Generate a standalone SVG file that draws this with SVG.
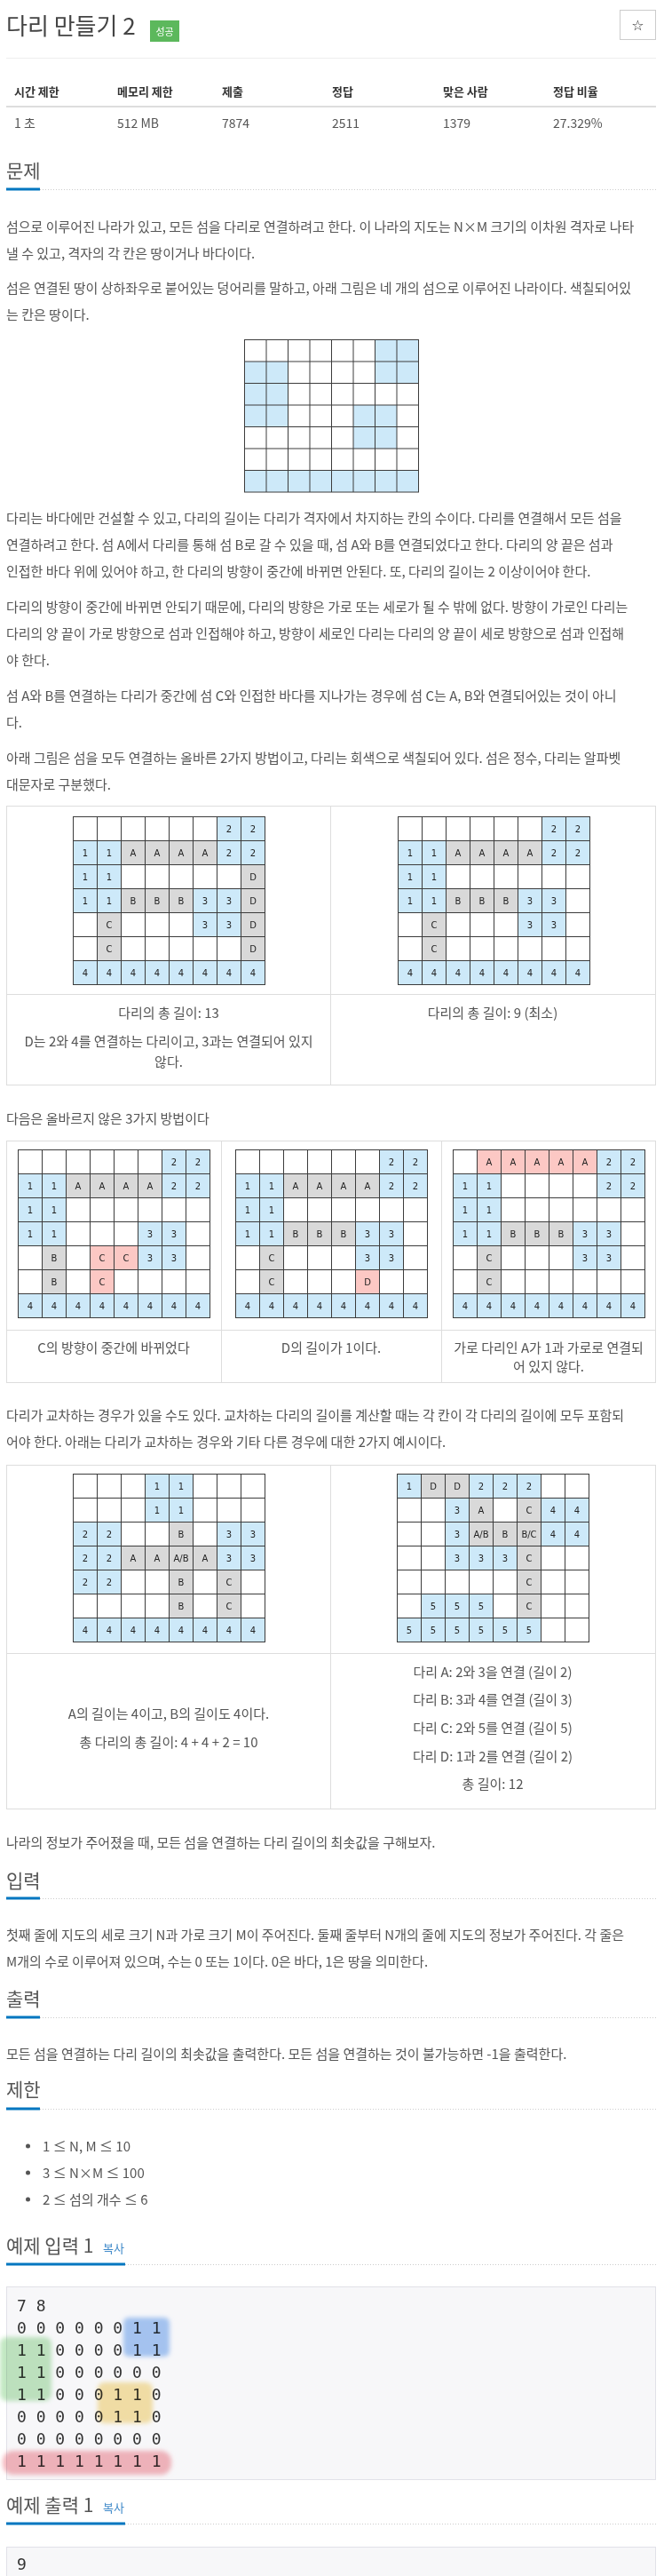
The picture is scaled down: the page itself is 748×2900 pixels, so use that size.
<svg xmlns="http://www.w3.org/2000/svg" xmlns:xlink="http://www.w3.org/1999/xlink" width="748" height="2900" viewBox="0 0 748 2900">
<style>
.f{font-family:"Noto Sans CJK KR","Noto Sans",sans-serif;fill:#555}
.p{font-size:15px}
.c{text-anchor:middle}
.h{font-size:21px}
.th{font-size:13px;font-weight:bold;fill:#333}
.tv{font-size:14px;fill:#555}
.tb{fill:none;stroke:#ddd;stroke-width:1}
.gl{fill:none;stroke:#3c3c3c;stroke-width:1}
.b{fill:#cde9f9}
.g{fill:#d9d9d9}
.k{fill:#fcc8c4}
.t{font-family:"DejaVu Sans",sans-serif;font-size:10px;fill:#222;text-anchor:middle}
.ul{fill:#0076c0}
.dl{stroke:#ccc;stroke-width:1;stroke-dasharray:1 2}
.pre{fill:#f7f7f9;stroke:#e1e1e8;stroke-width:1}
.m{font-family:"DejaVu Sans Mono","Liberation Mono",monospace;font-size:18px;fill:#333}
.hl{mix-blend-mode:multiply;filter:url(#blur)}
</style>
<defs>
<filter id="blur" x="-20%" y="-20%" width="140%" height="140%"><feGaussianBlur stdDeviation="2.5"/></filter>
<g id="L27" class="gl"><rect width="216" height="189"/><path d="M27 0V189M54 0V189M81 0V189M108 0V189M135 0V189M162 0V189M189 0V189M0 27H216M0 54H216M0 81H216M0 108H216M0 135H216M0 162H216"/></g>
<g id="L24" class="gl"><rect width="196" height="171.5"/><path d="M24.5 0V171.5M49 0V171.5M73.5 0V171.5M98 0V171.5M122.5 0V171.5M147 0V171.5M171.5 0V171.5M0 24.5H196M0 49H196M0 73.5H196M0 98H196M0 122.5H196M0 147H196"/></g>
<g id="row4">
<rect class="b" x="0" y="162" width="216" height="27"/>
<text class="t" x="13.5" y="179">4</text><text class="t" x="40.5" y="179">4</text><text class="t" x="67.5" y="179">4</text><text class="t" x="94.5" y="179">4</text><text class="t" x="121.5" y="179">4</text><text class="t" x="148.5" y="179">4</text><text class="t" x="175.5" y="179">4</text><text class="t" x="202.5" y="179">4</text>
</g>
<g id="top">
<rect class="b" x="162" y="0" width="54" height="54"/>
<rect class="b" x="0" y="27" width="54" height="54"/>
<rect class="g" x="54" y="27" width="108" height="27"/>
<text class="t" x="175.5" y="17">2</text><text class="t" x="202.5" y="17">2</text>
<text class="t" x="13.5" y="44">1</text><text class="t" x="40.5" y="44">1</text><text class="t" x="67.5" y="44">A</text><text class="t" x="94.5" y="44">A</text><text class="t" x="121.5" y="44">A</text><text class="t" x="148.5" y="44">A</text><text class="t" x="175.5" y="44">2</text><text class="t" x="202.5" y="44">2</text>
<text class="t" x="13.5" y="71">1</text><text class="t" x="40.5" y="71">1</text>
</g>
<g id="mid">
<rect class="b" x="0" y="81" width="54" height="27"/>
<rect class="g" x="54" y="81" width="81" height="27"/>
<rect class="b" x="135" y="81" width="54" height="54"/>
<rect class="g" x="27" y="108" width="27" height="54"/>
<text class="t" x="13.5" y="98">1</text><text class="t" x="40.5" y="98">1</text><text class="t" x="67.5" y="98">B</text><text class="t" x="94.5" y="98">B</text><text class="t" x="121.5" y="98">B</text><text class="t" x="148.5" y="98">3</text><text class="t" x="175.5" y="98">3</text>
<text class="t" x="40.5" y="125">C</text><text class="t" x="148.5" y="125">3</text><text class="t" x="175.5" y="125">3</text>
<text class="t" x="40.5" y="152">C</text>
</g>
</defs>
<rect width="748" height="2900" fill="#fff"/>

<g id="header">
<text class="f" x="7" y="39" style="font-size:26px;fill:#444">다리 만들기 2</text>
<rect x="169" y="23" width="33" height="24" fill="#5cb85c"/>
<text class="f c" x="185.5" y="39.5" style="font-size:11px;fill:#fff">성공</text>
<rect x="698.5" y="11.5" width="40" height="33" fill="#fff" stroke="#ccc"/>
<text x="718.5" y="34" text-anchor="middle" style="font-family:'DejaVu Sans',sans-serif;font-size:16px;fill:#333">☆</text>
<line x1="7" y1="65.5" x2="739" y2="65.5" stroke="#eee"/>
</g>

<g id="stats">
<text class="f th" x="16" y="108">시간 제한</text>
<text class="f th" x="132" y="108">메모리 제한</text>
<text class="f th" x="250" y="108">제출</text>
<text class="f th" x="374" y="108">정답</text>
<text class="f th" x="499" y="108">맞은 사람</text>
<text class="f th" x="623" y="108">정답 비율</text>
<line x1="7" y1="120" x2="739" y2="120" stroke="#ddd" stroke-width="2"/>
<text class="f tv" x="16" y="144">1 초</text>
<text class="f tv" x="132" y="144">512 MB</text>
<text class="f tv" x="250" y="144">7874</text>
<text class="f tv" x="374" y="144">2511</text>
<text class="f tv" x="499" y="144">1379</text>
<text class="f tv" x="623" y="144">27.329%</text>
</g>

<g id="sec-problem">
<text class="f h" x="7" y="199.5">문제</text>
<rect class="ul" x="7" y="211.5" width="38" height="3"/>
<line class="dl" x1="45" y1="213.5" x2="739" y2="213.5"/>
<text class="f p" x="7" y="260.5">섬으로 이루어진 나라가 있고, 모든 섬을 다리로 연결하려고 한다. 이 나라의 지도는 N×M 크기의 이차원 격자로 나타</text>
<text class="f p" x="7" y="290.5">낼 수 있고, 격자의 각 칸은 땅이거나 바다이다.</text>
<text class="f p" x="7" y="329.5">섬은 연결된 땅이 상하좌우로 붙어있는 덩어리를 말하고, 아래 그림은 네 개의 섬으로 이루어진 나라이다. 색칠되어있</text>
<text class="f p" x="7" y="359.5">는 칸은 땅이다.</text>
</g>

<g id="grid-map" transform="translate(275.5,382.5)">
<rect class="b" x="147" y="0" width="49" height="49"/>
<rect class="b" x="0" y="24.5" width="49" height="73.5"/>
<rect class="b" x="122.5" y="73.5" width="49" height="49"/>
<rect class="b" x="0" y="147" width="196" height="24.5"/>
<use xlink:href="#L24" href="#L24"/>
</g>

<g id="para-rules">
<text class="f p" x="7" y="588.5">다리는 바다에만 건설할 수 있고, 다리의 길이는 다리가 격자에서 차지하는 칸의 수이다. 다리를 연결해서 모든 섬을</text>
<text class="f p" x="7" y="618.5">연결하려고 한다. 섬 A에서 다리를 통해 섬 B로 갈 수 있을 때, 섬 A와 B를 연결되었다고 한다. 다리의 양 끝은 섬과</text>
<text class="f p" x="7" y="648.5">인접한 바다 위에 있어야 하고, 한 다리의 방향이 중간에 바뀌면 안된다. 또, 다리의 길이는 2 이상이어야 한다.</text>
<text class="f p" x="7" y="688.5">다리의 방향이 중간에 바뀌면 안되기 때문에, 다리의 방향은 가로 또는 세로가 될 수 밖에 없다. 방향이 가로인 다리는</text>
<text class="f p" x="7" y="718.5">다리의 양 끝이 가로 방향으로 섬과 인접해야 하고, 방향이 세로인 다리는 다리의 양 끝이 세로 방향으로 섬과 인접해</text>
<text class="f p" x="7" y="748.5">야 한다.</text>
<text class="f p" x="7" y="788.5">섬 A와 B를 연결하는 다리가 중간에 섬 C와 인접한 바다를 지나가는 경우에 섬 C는 A, B와 연결되어있는 것이 아니</text>
<text class="f p" x="7" y="818.5">다.</text>
<text class="f p" x="7" y="858.5">아래 그림은 섬을 모두 연결하는 올바른 2가지 방법이고, 다리는 회색으로 색칠되어 있다. 섬은 정수, 다리는 알파벳</text>
<text class="f p" x="7" y="888.5">대문자로 구분했다.</text>
</g>

<g id="table-correct">
<rect class="tb" x="7.5" y="907.5" width="731" height="314"/>
<line class="tb" x1="372.5" y1="907.5" x2="372.5" y2="1221.5"/>
<line class="tb" x1="7.5" y1="1119.5" x2="738.5" y2="1119.5"/>
<g id="grid-ok1" transform="translate(82.5,919.5)">
<use xlink:href="#top" href="#top"/><use xlink:href="#mid" href="#mid"/><use xlink:href="#row4" href="#row4"/>
<rect class="g" x="189" y="54" width="27" height="108"/>
<text class="t" x="202.5" y="71">D</text><text class="t" x="202.5" y="98">D</text><text class="t" x="202.5" y="125">D</text><text class="t" x="202.5" y="152">D</text>
<use xlink:href="#L27" href="#L27"/>
</g>
<g id="grid-ok2" transform="translate(448.5,919.5)">
<use xlink:href="#top" href="#top"/><use xlink:href="#mid" href="#mid"/><use xlink:href="#row4" href="#row4"/>
<use xlink:href="#L27" href="#L27"/>
</g>
<text class="f p c" x="190" y="1145.5">다리의 총 길이: 13</text>
<text class="f p c" x="190" y="1177.5">D는 2와 4를 연결하는 다리이고, 3과는 연결되어 있지</text>
<text class="f p c" x="190" y="1200.5">않다.</text>
<text class="f p c" x="555" y="1145.5">다리의 총 길이: 9 (최소)</text>
</g>

<text class="f p" x="7" y="1264.5">다음은 올바르지 않은 3가지 방법이다</text>

<g id="table-wrong">
<rect class="tb" x="7.5" y="1284.5" width="731" height="272"/>
<line class="tb" x1="249.5" y1="1284.5" x2="249.5" y2="1556.5"/>
<line class="tb" x1="497.5" y1="1284.5" x2="497.5" y2="1556.5"/>
<line class="tb" x1="7.5" y1="1497.5" x2="738.5" y2="1497.5"/>
<g id="grid-bad1" transform="translate(20.5,1294.5)">
<use xlink:href="#top" href="#top"/><use xlink:href="#row4" href="#row4"/>
<rect class="b" x="0" y="81" width="54" height="27"/>
<rect class="b" x="135" y="81" width="54" height="54"/>
<rect class="g" x="27" y="108" width="27" height="54"/>
<rect class="k" x="81" y="108" width="54" height="27"/>
<rect class="k" x="81" y="135" width="27" height="27"/>
<text class="t" x="13.5" y="98">1</text><text class="t" x="40.5" y="98">1</text><text class="t" x="148.5" y="98">3</text><text class="t" x="175.5" y="98">3</text>
<text class="t" x="40.5" y="125">B</text><text class="t" x="94.5" y="125">C</text><text class="t" x="121.5" y="125">C</text><text class="t" x="148.5" y="125">3</text><text class="t" x="175.5" y="125">3</text>
<text class="t" x="40.5" y="152">B</text><text class="t" x="94.5" y="152">C</text>
<use xlink:href="#L27" href="#L27"/>
</g>
<g id="grid-bad2" transform="translate(265.5,1294.5)">
<use xlink:href="#top" href="#top"/><use xlink:href="#mid" href="#mid"/><use xlink:href="#row4" href="#row4"/>
<rect class="k" x="135" y="135" width="27" height="27"/>
<text class="t" x="148.5" y="152">D</text>
<use xlink:href="#L27" href="#L27"/>
</g>
<g id="grid-bad3" transform="translate(510.5,1294.5)">
<use xlink:href="#mid" href="#mid"/><use xlink:href="#row4" href="#row4"/>
<rect class="k" x="27" y="0" width="135" height="27"/>
<rect class="b" x="162" y="0" width="54" height="54"/>
<rect class="b" x="0" y="27" width="54" height="54"/>
<text class="t" x="40.5" y="17">A</text><text class="t" x="67.5" y="17">A</text><text class="t" x="94.5" y="17">A</text><text class="t" x="121.5" y="17">A</text><text class="t" x="148.5" y="17">A</text><text class="t" x="175.5" y="17">2</text><text class="t" x="202.5" y="17">2</text>
<text class="t" x="13.5" y="44">1</text><text class="t" x="40.5" y="44">1</text><text class="t" x="175.5" y="44">2</text><text class="t" x="202.5" y="44">2</text>
<text class="t" x="13.5" y="71">1</text><text class="t" x="40.5" y="71">1</text>
<use xlink:href="#L27" href="#L27"/>
</g>
<text class="f p c" x="128" y="1522.5">C의 방향이 중간에 바뀌었다</text>
<text class="f p c" x="373" y="1522.5">D의 길이가 1이다.</text>
<text class="f p c" x="618" y="1522.5">가로 다리인 A가 1과 가로로 연결되</text>
<text class="f p c" x="618" y="1543.5">어 있지 않다.</text>
</g>

<g id="para-cross">
<text class="f p" x="7" y="1598.5">다리가 교차하는 경우가 있을 수도 있다. 교차하는 다리의 길이를 계산할 때는 각 칸이 각 다리의 길이에 모두 포함되</text>
<text class="f p" x="7" y="1628.5">어야 한다. 아래는 다리가 교차하는 경우와 기타 다른 경우에 대한 2가지 예시이다.</text>
</g>

<g id="table-cross">
<rect class="tb" x="7.5" y="1649.5" width="731" height="387"/>
<line class="tb" x1="372.5" y1="1649.5" x2="372.5" y2="2036.5"/>
<line class="tb" x1="7.5" y1="1861.5" x2="738.5" y2="1861.5"/>
<g id="grid-cross1" transform="translate(82.5,1659.5)">
<use xlink:href="#row4" href="#row4"/>
<rect class="b" x="81" y="0" width="54" height="54"/>
<rect class="b" x="0" y="54" width="54" height="81"/>
<rect class="b" x="162" y="54" width="54" height="54"/>
<rect class="g" x="54" y="81" width="108" height="27"/>
<rect class="g" x="108" y="54" width="27" height="108"/>
<rect class="g" x="162" y="108" width="27" height="54"/>
<text class="t" x="94.5" y="17">1</text><text class="t" x="121.5" y="17">1</text>
<text class="t" x="94.5" y="44">1</text><text class="t" x="121.5" y="44">1</text>
<text class="t" x="13.5" y="71">2</text><text class="t" x="40.5" y="71">2</text><text class="t" x="121.5" y="71">B</text><text class="t" x="175.5" y="71">3</text><text class="t" x="202.5" y="71">3</text>
<text class="t" x="13.5" y="98">2</text><text class="t" x="40.5" y="98">2</text><text class="t" x="67.5" y="98">A</text><text class="t" x="94.5" y="98">A</text><text class="t" x="121.5" y="98">A/B</text><text class="t" x="148.5" y="98">A</text><text class="t" x="175.5" y="98">3</text><text class="t" x="202.5" y="98">3</text>
<text class="t" x="13.5" y="125">2</text><text class="t" x="40.5" y="125">2</text><text class="t" x="121.5" y="125">B</text><text class="t" x="175.5" y="125">C</text>
<text class="t" x="121.5" y="152">B</text><text class="t" x="175.5" y="152">C</text>
<use xlink:href="#L27" href="#L27"/>
</g>
<g id="grid-cross2" transform="translate(447.5,1659.5)">
<rect class="b" x="0" y="0" width="27" height="27"/>
<rect class="g" x="27" y="0" width="54" height="27"/>
<rect class="b" x="81" y="0" width="81" height="27"/>
<rect class="b" x="54" y="27" width="27" height="54"/>
<rect class="g" x="81" y="27" width="27" height="27"/>
<rect class="g" x="135" y="27" width="27" height="135"/>
<rect class="b" x="162" y="27" width="54" height="54"/>
<rect class="g" x="81" y="54" width="54" height="27"/>
<rect class="b" x="54" y="81" width="81" height="27"/>
<rect class="b" x="27" y="135" width="81" height="27"/>
<rect class="b" x="0" y="162" width="162" height="27"/>
<text class="t" x="13.5" y="17">1</text><text class="t" x="40.5" y="17">D</text><text class="t" x="67.5" y="17">D</text><text class="t" x="94.5" y="17">2</text><text class="t" x="121.5" y="17">2</text><text class="t" x="148.5" y="17">2</text>
<text class="t" x="67.5" y="44">3</text><text class="t" x="94.5" y="44">A</text><text class="t" x="148.5" y="44">C</text><text class="t" x="175.5" y="44">4</text><text class="t" x="202.5" y="44">4</text>
<text class="t" x="67.5" y="71">3</text><text class="t" x="94.5" y="71">A/B</text><text class="t" x="121.5" y="71">B</text><text class="t" x="148.5" y="71">B/C</text><text class="t" x="175.5" y="71">4</text><text class="t" x="202.5" y="71">4</text>
<text class="t" x="67.5" y="98">3</text><text class="t" x="94.5" y="98">3</text><text class="t" x="121.5" y="98">3</text><text class="t" x="148.5" y="98">C</text>
<text class="t" x="148.5" y="125">C</text>
<text class="t" x="40.5" y="152">5</text><text class="t" x="67.5" y="152">5</text><text class="t" x="94.5" y="152">5</text><text class="t" x="148.5" y="152">C</text>
<text class="t" x="13.5" y="179">5</text><text class="t" x="40.5" y="179">5</text><text class="t" x="67.5" y="179">5</text><text class="t" x="94.5" y="179">5</text><text class="t" x="121.5" y="179">5</text><text class="t" x="148.5" y="179">5</text>
<use xlink:href="#L27" href="#L27"/>
</g>
<text class="f p c" x="190" y="1934.5">A의 길이는 4이고, B의 길이도 4이다.</text>
<text class="f p c" x="190" y="1966.5">총 다리의 총 길이: 4 + 4 + 2 = 10</text>
<text class="f p c" x="555" y="1887.5">다리 A: 2와 3을 연결 (길이 2)</text>
<text class="f p c" x="555" y="1918.5">다리 B: 3과 4를 연결 (길이 3)</text>
<text class="f p c" x="555" y="1950.5">다리 C: 2와 5를 연결 (길이 5)</text>
<text class="f p c" x="555" y="1982.5">다리 D: 1과 2를 연결 (길이 2)</text>
<text class="f p c" x="555" y="2013.5">총 길이: 12</text>
</g>

<text class="f p" x="7" y="2079.5">나라의 정보가 주어졌을 때, 모든 섬을 연결하는 다리 길이의 최솟값을 구해보자.</text>

<g id="sec-input">
<text class="f h" x="7" y="2124.5">입력</text>
<rect class="ul" x="7" y="2135.5" width="38" height="3"/>
<line class="dl" x1="45" y1="2137.5" x2="739" y2="2137.5"/>
<text class="f p" x="7" y="2183.5">첫째 줄에 지도의 세로 크기 N과 가로 크기 M이 주어진다. 둘째 줄부터 N개의 줄에 지도의 정보가 주어진다. 각 줄은</text>
<text class="f p" x="7" y="2213.5">M개의 수로 이루어져 있으며, 수는 0 또는 1이다. 0은 바다, 1은 땅을 의미한다.</text>
</g>

<g id="sec-output">
<text class="f h" x="7" y="2257.5">출력</text>
<rect class="ul" x="7" y="2269.5" width="38" height="3"/>
<line class="dl" x1="45" y1="2271.5" x2="739" y2="2271.5"/>
<text class="f p" x="7" y="2317.5">모든 섬을 연결하는 다리 길이의 최솟값을 출력한다. 모든 섬을 연결하는 것이 불가능하면 -1을 출력한다.</text>
</g>

<g id="sec-limit">
<text class="f h" x="7" y="2359.5">제한</text>
<rect class="ul" x="7" y="2372.5" width="38" height="3"/>
<line class="dl" x1="45" y1="2374.5" x2="739" y2="2374.5"/>
<circle cx="31.5" cy="2416" r="2.5" fill="#555"/>
<circle cx="31.5" cy="2446" r="2.5" fill="#555"/>
<circle cx="31.5" cy="2476" r="2.5" fill="#555"/>
<text class="f p" x="48" y="2421.5">1 ≤ N, M ≤ 10</text>
<text class="f p" x="48" y="2451.5">3 ≤ N×M ≤ 100</text>
<text class="f p" x="48" y="2481.5">2 ≤ 섬의 개수 ≤ 6</text>
</g>

<g id="sec-sample-in">
<text class="f h" x="7" y="2535.5">예제 입력 1</text>
<text class="f" x="116" y="2535.5" style="font-size:13px;fill:#428bca">복사</text>
<rect class="ul" x="7" y="2547.5" width="134" height="3"/>
<line class="dl" x1="141" y1="2549.5" x2="739" y2="2549.5"/>
<rect class="pre" x="7.5" y="2574.5" width="731" height="217"/>
<text class="m" x="19" y="2601.5">7 8</text>
<text class="m" x="19" y="2626.5">0 0 0 0 0 0 1 1</text>
<text class="m" x="19" y="2651.5">1 1 0 0 0 0 1 1</text>
<text class="m" x="19" y="2676.5">1 1 0 0 0 0 0 0</text>
<text class="m" x="19" y="2701.5">1 1 0 0 0 1 1 0</text>
<text class="m" x="19" y="2726.5">0 0 0 0 0 1 1 0</text>
<text class="m" x="19" y="2751.5">0 0 0 0 0 0 0 0</text>
<text class="m" x="19" y="2776.5">1 1 1 1 1 1 1 1</text>
<rect class="hl" x="139" y="2609" width="52" height="44" rx="6" fill="#a9c9f5"/>
<rect class="hl" x="0" y="2631" width="58" height="72" rx="8" fill="#c2e8c2"/>
<rect class="hl" x="110" y="2682" width="62" height="46" rx="8" fill="#f8e4a8"/>
<rect class="hl" x="3" y="2759" width="190" height="27" rx="12" fill="#f5b7be"/>
</g>

<g id="sec-sample-out">
<text class="f h" x="7" y="2827.5">예제 출력 1</text>
<text class="f" x="116" y="2827.5" style="font-size:13px;fill:#428bca">복사</text>
<rect class="ul" x="7" y="2839.5" width="134" height="3"/>
<line class="dl" x1="141" y1="2841.5" x2="739" y2="2841.5"/>
<rect class="pre" x="7.5" y="2867.5" width="731" height="60"/>
<text class="m" x="19" y="2893">9</text>
</g>
</svg>
